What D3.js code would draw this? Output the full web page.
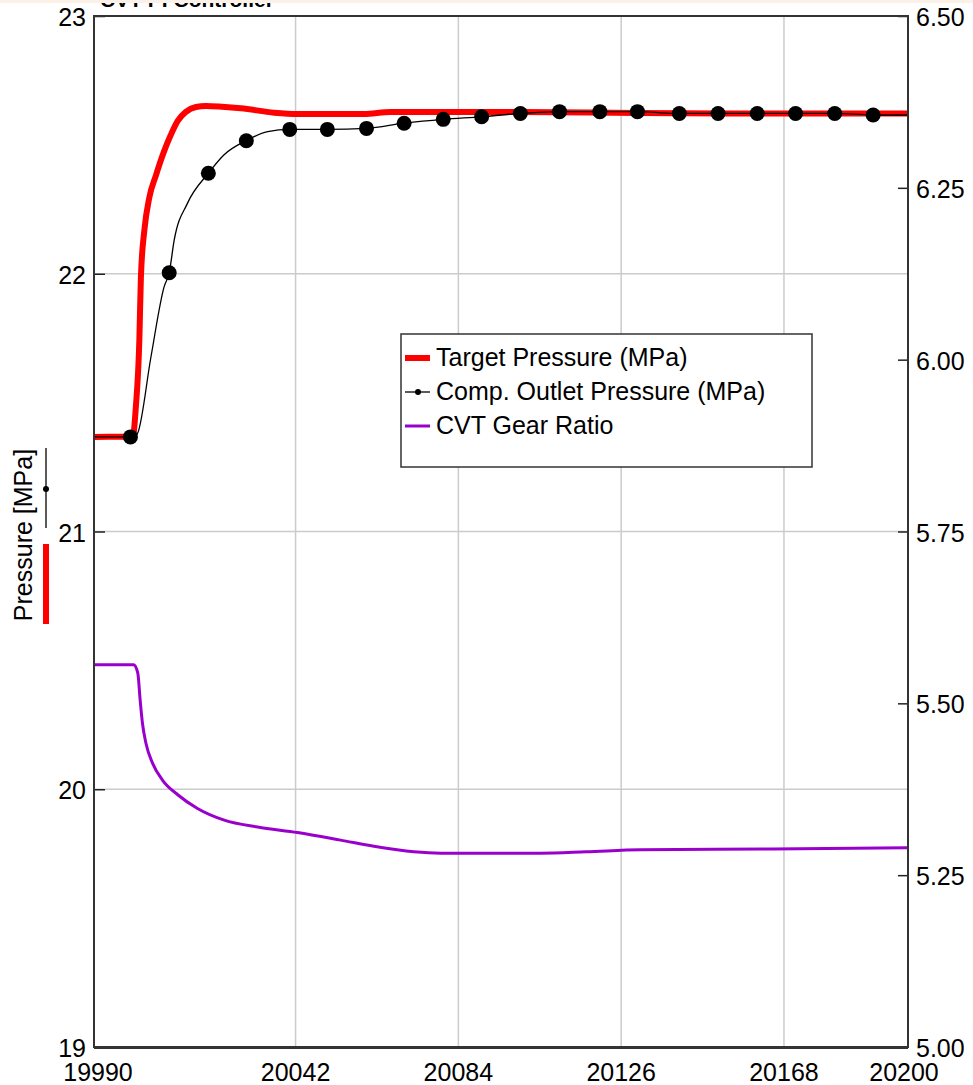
<!DOCTYPE html>
<html>
<head>
    <meta charset="utf-8">
    <title>CVT PI Controller</title>
    <style>
        body { margin: 0; background: #fff; }
        text { font-family: "Liberation Sans", Arial, sans-serif; fill: #000; }
    </style>
</head>
<body>
    <svg width="973" height="1085"></svg>
    <script src="https://d3js.org/d3.v7.min.js"></script>
    <script>
    // x ticks
    var timeTicks = [19990, 20042, 20084, 20126, 20168, 20200];
    var pressureTicks = [19, 20, 21, 22, 23];
    var ratioTicks = [5.00, 5.25, 5.50, 5.75, 6.00, 6.25, 6.50];

    // Target Pressure (MPa)
    var targetTime = [19990, 20000.0, 20000.8, 20001.7, 20002.1, 20003.0, 20004.25, 20006.0, 20008.0, 20009.8,
        20011.6, 20013.7, 20016.3, 20018.9, 20023.0, 20027.9, 20036.5, 20042.5, 20059.6, 20066.5,
        20100, 20130, 20160, 20200];
    var targetPressure = [21.367, 21.368, 21.484, 21.743, 21.987, 22.170, 22.294, 22.383, 22.472, 22.538,
        22.593, 22.628, 22.647, 22.651, 22.648, 22.642, 22.625, 22.620, 22.620, 22.628,
        22.628, 22.624, 22.622, 22.622];

    // Comp. Outlet Pressure (MPa)
    var compTime = [19990, 20000.3, 20001.3, 20004.7, 20008.1, 20009.4, 20010.7, 20014.1, 20019.5, 20023.5,
        20029.2, 20034.8, 20040.5, 20050.2, 20060.3, 20070.0, 20080.1, 20090.0, 20100.0, 20110.1,
        20120.5, 20130.2, 20141.0, 20151.0, 20161.1, 20171.0, 20181.1, 20191.0, 20200];
    var compPressure = [21.367, 21.367, 21.383, 21.678, 21.950, 22.004, 22.131, 22.273, 22.390, 22.461,
        22.516, 22.551, 22.560, 22.560, 22.564, 22.584, 22.599, 22.609, 22.622, 22.629,
        22.629, 22.629, 22.622, 22.622, 22.622, 22.622, 22.622, 22.616, 22.616];
    var markerTime = [19999.4, 20009.4, 20019.5, 20029.3, 20040.5, 20050.2, 20060.3, 20070.0, 20080.1, 20090.0,
        20100.0, 20110.1, 20120.5, 20130.2, 20141.0, 20151.0, 20161.1, 20171.0, 20181.1, 20191.0];
    var markerPressure = [21.367, 22.004, 22.390, 22.516, 22.560, 22.560, 22.564, 22.584, 22.599, 22.609,
        22.622, 22.629, 22.629, 22.629, 22.622, 22.622, 22.622, 22.622, 22.622, 22.616];

    // CVT Gear Ratio (right axis)
    var gearTime = [19990, 20000.2, 20001.3, 20001.9, 20002.5, 20003.4, 20005.1, 20007.7, 20011.6, 20016.7,
        20023.6, 20032.2, 20042.5, 20053.6, 20062.2, 20072.5, 20079.4, 20092.3, 20105.2, 20117.0,
        20131.0, 20165.0, 20200];
    var gearRatio = [5.556, 5.556, 5.544, 5.505, 5.471, 5.442, 5.413, 5.388, 5.367, 5.347,
        5.330, 5.320, 5.312, 5.301, 5.292, 5.284, 5.282, 5.282, 5.282, 5.284,
        5.287, 5.288, 5.290];

    var svg = d3.select("svg"),
        plotLeft = 94, plotRight = 908, plotTop = 16, plotBottom = 1047;

    var x = d3.scaleLinear().domain([19990, 20200]).range([plotLeft, plotRight]);
    var y = d3.scaleLinear().domain([19, 23]).range([plotBottom, plotTop]);
    var y2 = d3.scaleLinear().domain([5, 6.5]).range([plotBottom, plotTop]);

    // title, mostly cut off at the top
    svg.append("text")
        .attr("x", 100).attr("y", 7)
        .style("font-size", "21px").style("font-weight", "bold")
        .text("CVT PI Controller");
    svg.append("rect").attr("x", 0).attr("y", 0).attr("width", 973).attr("height", 3)
        .attr("fill", "#fcf1e6");

    // grid
    var grid = svg.append("g").attr("stroke", "#cbcbcb").attr("stroke-width", 1.5);
    grid.selectAll(".vg").data(timeTicks.slice(1, -1)).enter().append("line")
        .attr("x1", d => x(d)).attr("x2", d => x(d)).attr("y1", plotTop).attr("y2", plotBottom);
    grid.selectAll(".hg").data(pressureTicks.slice(1, -1)).enter().append("line")
        .attr("x1", plotLeft).attr("x2", plotRight).attr("y1", d => y(d)).attr("y2", d => y(d));

    // axes
    var leftAxis = svg.append("g").attr("transform", "translate(" + plotLeft + ",0)")
        .call(d3.axisRight(y).tickValues(pressureTicks).tickSize(11).tickFormat(""));
    var rightAxis = svg.append("g").attr("transform", "translate(" + plotRight + ",0)")
        .call(d3.axisLeft(y2).tickValues(ratioTicks).tickSize(10).tickFormat(""));
    [leftAxis, rightAxis].forEach(function(a) {
        a.select(".domain").remove();
        a.selectAll("line").attr("stroke", "#222").attr("stroke-width", 1.5);
    });

    svg.selectAll(".ylab").data(pressureTicks).enter().append("text")
        .attr("x", 86).attr("y", d => y(d) + 10)
        .attr("text-anchor", "end").style("font-size", "25px")
        .text(d => d);
    svg.selectAll(".y2lab").data(ratioTicks).enter().append("text")
        .attr("x", 916).attr("y", d => y2(d) + 10)
        .style("font-size", "25px")
        .text(d => d.toFixed(2));
    svg.selectAll(".xlab").data(timeTicks).enter().append("text")
        .attr("x", d => x(d) + (d === 19990 ? 4 : d === 20200 ? -4 : 0)).attr("y", 1081)
        .attr("text-anchor", "middle").style("font-size", "25px")
        .text(d => d);

    // y label with series symbols
    svg.append("text")
        .attr("transform", "translate(32,535) rotate(-90)")
        .attr("text-anchor", "middle").style("font-size", "25px")
        .text("Pressure [MPa]");
    svg.append("line").attr("x1", 46).attr("x2", 46).attr("y1", 448).attr("y2", 528)
        .attr("stroke", "#000").attr("stroke-width", 1.3);
    svg.append("circle").attr("cx", 46).attr("cy", 489).attr("r", 3).attr("fill", "#000");
    svg.append("line").attr("x1", 46).attr("x2", 46).attr("y1", 544).attr("y2", 624)
        .attr("stroke", "#ff0000").attr("stroke-width", 6);

    // series
    var line = d3.line().curve(d3.curveMonotoneX).x(d => x(d[0])).y(d => y(d[1]));
    var line2 = d3.line().curve(d3.curveMonotoneX).x(d => x(d[0])).y(d => y2(d[1]));

    svg.append("path")
        .datum(d3.zip(gearTime, gearRatio))
        .attr("d", line2).attr("fill", "none")
        .attr("stroke", "#9900cc").attr("stroke-width", 3);
    svg.append("path")
        .datum(d3.zip(targetTime, targetPressure))
        .attr("d", line).attr("fill", "none")
        .attr("stroke", "#ff0000").attr("stroke-width", 6);
    svg.append("path")
        .datum(d3.zip(compTime, compPressure))
        .attr("d", line).attr("fill", "none")
        .attr("stroke", "#000").attr("stroke-width", 1.3);
    svg.selectAll(".mk").data(d3.zip(markerTime, markerPressure)).enter().append("circle")
        .attr("cx", d => x(d[0])).attr("cy", d => y(d[1])).attr("r", 7.5)
        .attr("fill", "#000");

    // frame
    svg.append("rect").attr("x", plotLeft).attr("y", plotTop)
        .attr("width", plotRight - plotLeft).attr("height", plotBottom - plotTop)
        .attr("fill", "none").attr("stroke", "#333").attr("stroke-width", 2);
    svg.append("line").attr("x1", plotLeft).attr("x2", plotRight)
        .attr("y1", plotBottom + 1).attr("y2", plotBottom + 1)
        .attr("stroke", "#333").attr("stroke-width", 2);

    // legend
    var lg = svg.append("g").attr("transform", "translate(401,334)");
    lg.append("rect").attr("width", 411).attr("height", 133)
        .attr("fill", "#fff").attr("stroke", "#333").attr("stroke-width", 1.5);
    var legendItems = ["Target Pressure (MPa)", "Comp. Outlet Pressure (MPa)", "CVT Gear Ratio"];
    var legendColor = ["#ff0000", "#000", "#9900cc"];
    var legendWidth = [6, 1.3, 3];
    legendItems.forEach(function(name, i) {
        var cy = 24 + i * 34;
        lg.append("line").attr("x1", 4).attr("x2", 29).attr("y1", cy).attr("y2", cy)
            .attr("stroke", legendColor[i]).attr("stroke-width", legendWidth[i]);
        if (i === 1) lg.append("circle").attr("cx", 17).attr("cy", cy).attr("r", 3).attr("fill", "#000");
        lg.append("text").attr("x", 35).attr("y", cy + 8).style("font-size", "25px").text(name);
    });
    </script>
</body>
</html>
